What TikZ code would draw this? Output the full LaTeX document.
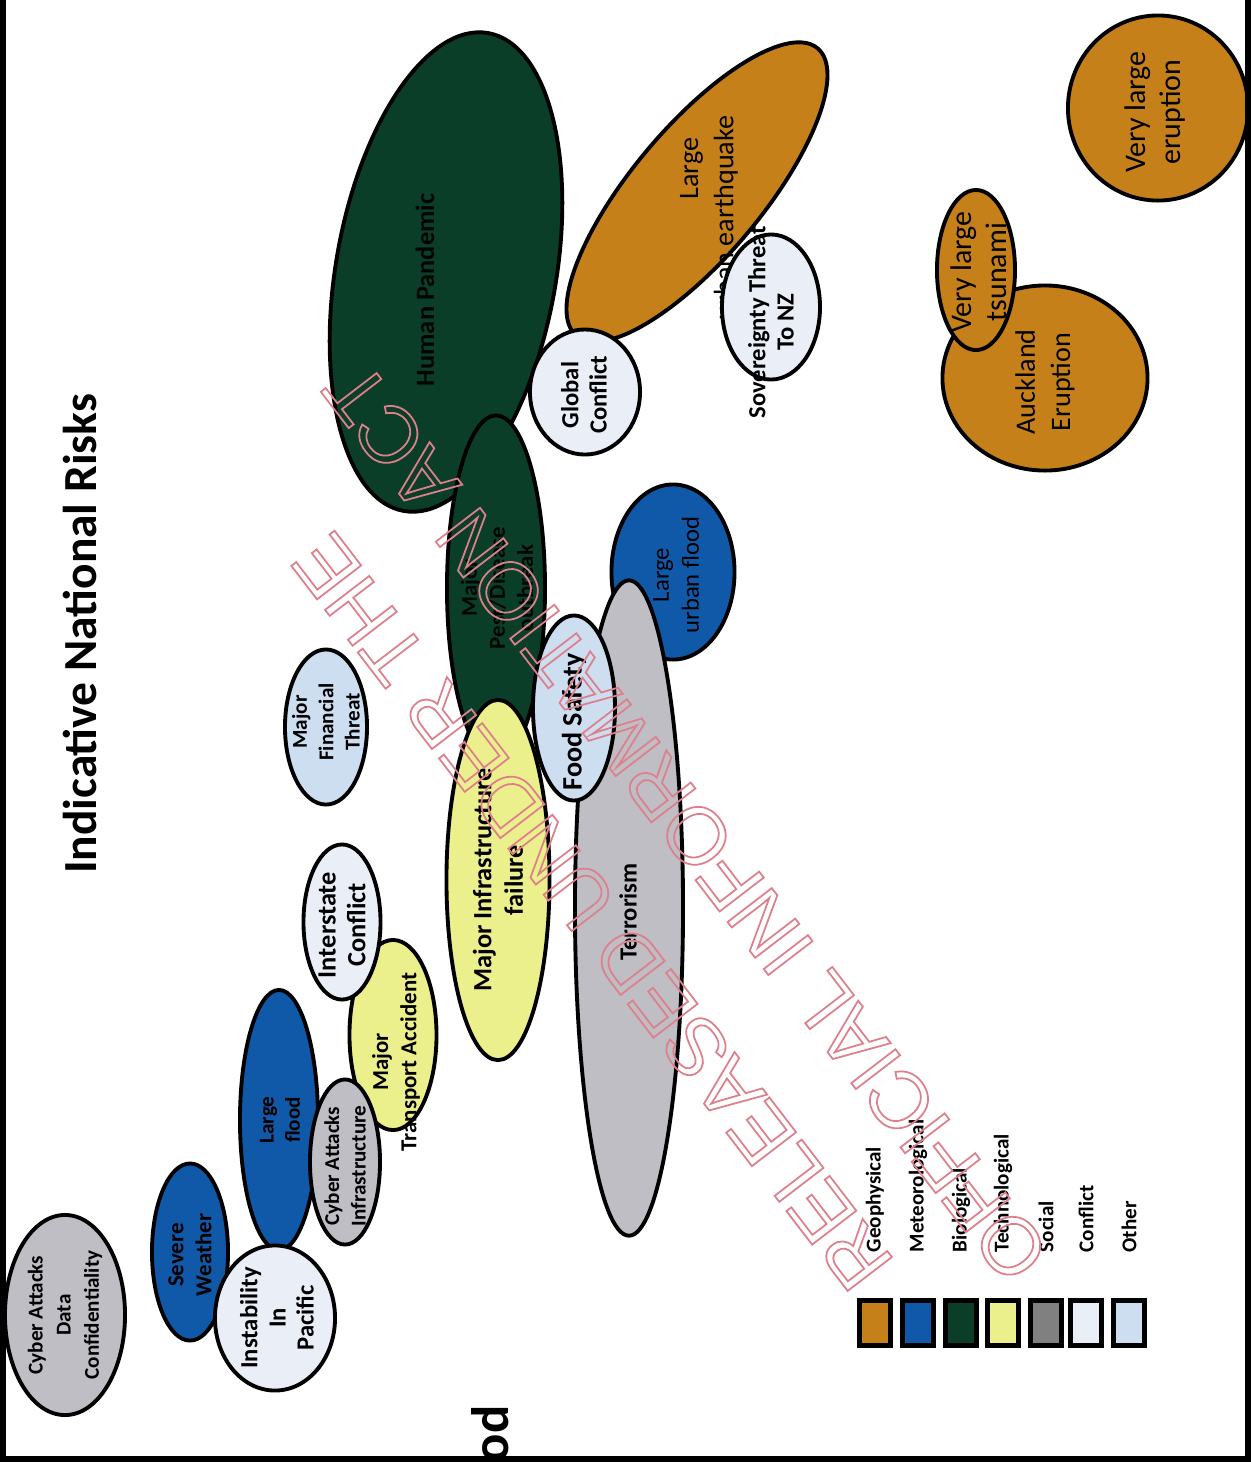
\documentclass[tikz,border=0pt]{standalone}
\usepackage{fontspec}
\setmainfont{Carlito}
\newfontfamily\wmfont{Liberation Sans}
\usepackage{tikz}
\usetikzlibrary{shapes.geometric}

\definecolor{geo}{RGB}{198,128,26}
\definecolor{met}{RGB}{16,88,168}
\definecolor{bio}{RGB}{10,62,40}
\definecolor{tech}{RGB}{236,240,140}
\definecolor{soc}{RGB}{190,190,196}
\definecolor{socdark}{RGB}{128,128,128}
\definecolor{conf}{RGB}{234,238,246}
\definecolor{oth}{RGB}{205,222,240}
\definecolor{wmark}{RGB}{222,128,140}

\tikzset{
	risk/.style={ellipse, draw=black, line width=1.1pt, inner sep=0pt},
	lbl/.style={rotate=90, align=center, inner sep=0pt, font=\bfseries\fontsize{7}{8}\selectfont},
	legbox/.style={rectangle, draw=black, line width=1.3pt, minimum width=0.31cm, minimum height=0.45cm, inner sep=0pt},
	leglbl/.style={rotate=90, anchor=west, inner sep=0pt, font=\bfseries\fontsize{6}{7}\selectfont},
	wm/.style={rotate=127.5, text=wmark, inner sep=0pt, font=\wmfont\fontsize{23}{27}\selectfont,
		execute at begin node=\special{pdf:literal direct 1 Tr 0.5 w},
		execute at end node=\special{pdf:literal direct 0 Tr}}
}

\begin{document}
\begin{tikzpicture}[x=0.01cm, y=-0.01cm]
	\useasboundingbox (0,0) rectangle (1251,1462);

	\node[lbl, font=\bfseries\fontsize{13.5}{16}\selectfont] (title) at (80,634) {Indicative National Risks};
	\node[lbl, anchor=east, font=\bfseries\fontsize{15}{18}\selectfont] (axis) at (490,1405) {ood};

	% biological / technological / social
	\node[risk, fill=bio, rotate=80, minimum width=4.85cm, minimum height=2.2cm] (pandemic) at (446,272) {};
	\node[lbl, text=black!90!bio, font=\bfseries\fontsize{7.5}{9}\selectfont] (pandemic-t) at (425,290) {Human Pandemic};
	\node[risk, fill=bio, rotate=90, minimum width=3.45cm, minimum height=0.98cm] (pest) at (496,588) {};
	\node[lbl, text=black!90!bio, font=\bfseries\fontsize{6.5}{8}\selectfont] (pest-t) at (497,588) {Major\\Pest/Disease\\outbreak};
	\node[risk, fill=tech, rotate=90, minimum width=3.6cm, minimum height=1.03cm] (infra) at (498,880) {};
	\node[lbl, font=\bfseries\fontsize{7.5}{9}\selectfont] (infra-t) at (498,880) {Major Infrastructure\\failure};
	\node[risk, fill=met, rotate=90, minimum width=1.75cm, minimum height=1.23cm] (uflood) at (673,572) {};
	\node[lbl, font=\fontsize{7}{8.5}\selectfont] (uflood-t) at (676,575) {Large\\urban flood};
	\node[risk, fill=soc, rotate=90, minimum width=6.55cm, minimum height=1.08cm] (terror) at (629,908) {};
	\node[lbl] (terror-t) at (628,912) {Terrorism};
	\node[risk, fill=oth, rotate=90, minimum width=1.85cm, minimum height=0.82cm] (food) at (574,708) {};
	\node[lbl, font=\bfseries\fontsize{8}{9}\selectfont] (food-t) at (574,722) {Food Safety};

	% geophysical and conflict
	\node[risk, fill=geo, rotate=50, minimum width=3.75cm, minimum height=1.3cm] (quake) at (697,192) {};
	\node[lbl, font=\fontsize{8}{10}\selectfont] (quake-t) at (709,218) {\hspace*{3.5em}Large\\urban earthquake};
	\node[risk, fill=conf, rotate=90, minimum width=1.25cm, minimum height=1.1cm] (glob) at (585,392) {};
	\node[lbl] (glob-t) at (584,395) {Global\\Conflict};
	\node[risk, fill=conf, rotate=90, minimum width=1.45cm, minimum height=0.98cm] (sov) at (771,307) {};
	\node[lbl] (sov-t) at (771,322) {Sovereignty Threat\\To NZ};
	\node[risk, fill=geo, rotate=90, minimum width=1.85cm, minimum height=2.05cm] (auck) at (1045,378) {};
	\node[lbl, font=\fontsize{8}{10}\selectfont] (auck-t) at (1045,382) {Auckland\\Eruption};
	\node[risk, fill=geo, rotate=90, minimum width=1.6cm, minimum height=0.78cm] (tsu) at (976,270) {};
	\node[lbl, font=\fontsize{8.5}{10}\selectfont] (tsu-t) at (979,272) {Very large\\tsunami};
	\node[risk, fill=geo, rotate=90, minimum width=1.85cm, minimum height=1.8cm] (erupt) at (1158,108) {};
	\node[lbl, font=\fontsize{8.5}{10}\selectfont] (erupt-t) at (1155,112) {Very large\\eruption};

	% left group
	\node[risk, fill=oth, rotate=90, minimum width=1.55cm, minimum height=0.82cm] (fin) at (326,727) {};
	\node[lbl, font=\bfseries\fontsize{6}{7.5}\selectfont] (fin-t) at (326,722) {Major\\Financial\\Threat};
	\node[risk, fill=tech, rotate=90, minimum width=1.9cm, minimum height=0.87cm] (trans) at (393,1035) {};
	\node[lbl, font=\bfseries\fontsize{6.5}{8}\selectfont] (trans-t) at (396,1062) {Major\\Transport Accident};
	\node[risk, fill=conf, rotate=90, minimum width=1.55cm, minimum height=0.77cm] (inter) at (342,922) {};
	\node[lbl, font=\bfseries\fontsize{7.5}{8.5}\selectfont] (inter-t) at (342,925) {Interstate\\Conflict};
	\node[risk, fill=met, rotate=90, minimum width=2.6cm, minimum height=0.78cm] (lflood) at (279,1120) {};
	\node[lbl, font=\bfseries\fontsize{6}{7.5}\selectfont] (lflood-t) at (280,1120) {Large\\flood};
	\node[risk, fill=soc, rotate=90, minimum width=1.65cm, minimum height=0.7cm] (cyinf) at (345,1162) {};
	\node[lbl, font=\bfseries\fontsize{6}{7.5}\selectfont] (cyinf-t) at (345,1166) {Cyber Attacks\\Infrastructure};
	\node[risk, fill=met, rotate=90, minimum width=1.77cm, minimum height=0.76cm] (sev) at (190,1252) {};
	\node[lbl, font=\bfseries\fontsize{6.5}{8}\selectfont] (sev-t) at (190,1255) {Severe\\Weather};
	\node[risk, fill=conf, rotate=90, minimum width=1.45cm, minimum height=1.2cm] (inst) at (275,1318) {};
	\node[lbl, font=\bfseries\fontsize{7}{8}\selectfont] (inst-t) at (277,1318) {Instability\\In\\Pacific};
	\node[risk, fill=soc, rotate=90, minimum width=2.0cm, minimum height=1.2cm] (cydat) at (65,1315) {};
	\node[lbl, font=\bfseries\fontsize{6}{8}\selectfont] (cydat-t) at (65,1315) {Cyber Attacks\\Data\\Confidentiality};

	% legend
	\foreach \x/\c/\n/\t in {875/geo/geo/Geophysical, 918/met/met/Meteorological, 961/bio/bio/Biological,
		1003/tech/tech/Technological, 1046/socdark/soc/Social, 1086/conf/conf/Conflict, 1129/oth/oth/Other}
	{
		\node[legbox, fill=\c] (leg-\n) at (\x,1323) {};
		\node[leglbl] (leg-\n-t) at (\x,1253) {\t};
	}

	\node[wm] (wm-1) at (592,912) {RELEASED UNDER THE};
	\node[wm] (wm-2) at (686,822) {OFFICIAL INFORMATION ACT};

	\draw[line width=1.6pt] (3,0) -- (3,1459) -- (1248,1459) -- (1248,0);
\end{tikzpicture}
\end{document}
